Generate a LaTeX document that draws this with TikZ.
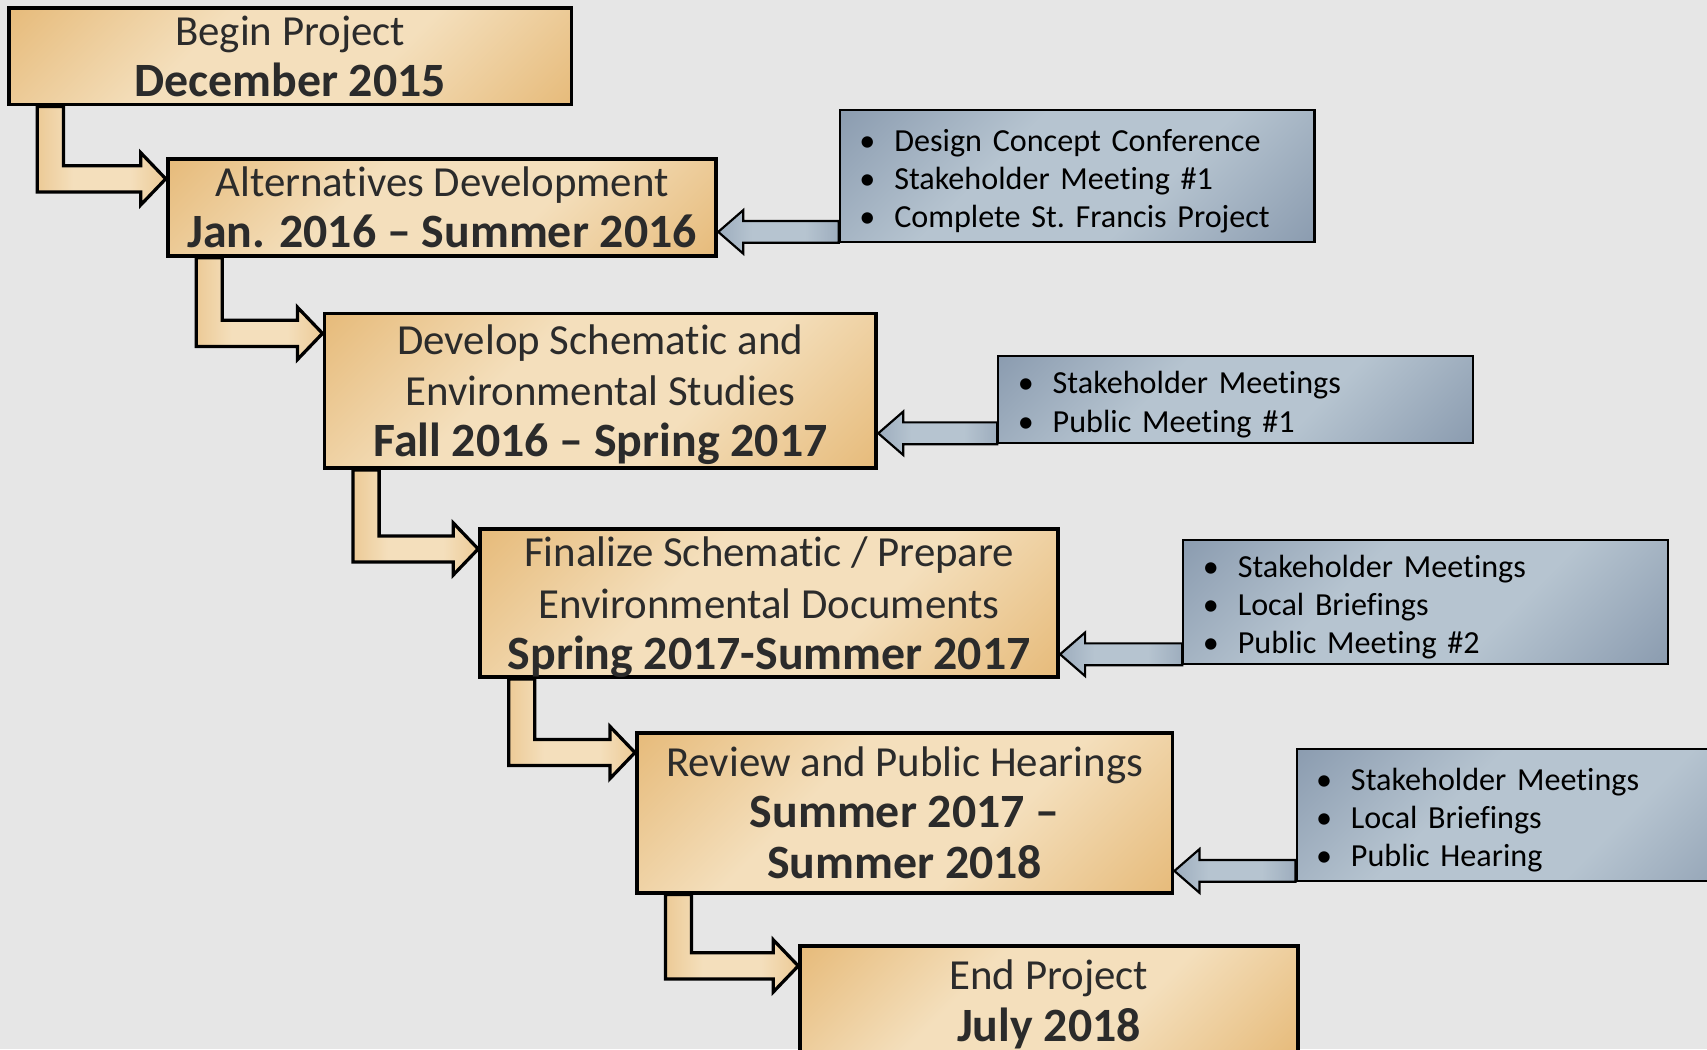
\documentclass[tikz,border=0pt]{standalone}
\usepackage{fontspec}
\setmainfont{Carlito}[Ligatures={TeX,NoCommon}]
\usetikzlibrary{calc}
\definecolor{tlBack}{HTML}{E6E6E6}
\definecolor{tlGoldDark}{HTML}{E6BA79}
\definecolor{tlGoldLight}{HTML}{F4DFBC}
\definecolor{tlBlueDark}{HTML}{8A9BAF}
\definecolor{tlBlueLight}{HTML}{B6C4D0}
\definecolor{tlInk}{HTML}{2B2B2B}
\pgfdeclarehorizontalshading{goldband}{100bp}{color(0bp)=(tlGoldDark); color(14bp)=(tlGoldDark); color(39bp)=(tlGoldLight); color(61bp)=(tlGoldLight); color(86bp)=(tlGoldDark); color(100bp)=(tlGoldDark)}
\pgfdeclarehorizontalshading{blueband}{100bp}{color(0bp)=(tlBlueDark); color(14bp)=(tlBlueDark); color(39bp)=(tlBlueLight); color(61bp)=(tlBlueLight); color(86bp)=(tlBlueDark); color(100bp)=(tlBlueDark)}
\newcommand{\when}[1]{{\fontsize{12.5}{13.4}\selectfont\bfseries #1}}
\newcommand{\bul}{\makebox[3.2mm][l]{\textbullet}}

\begin{document}
\begin{tikzpicture}[x=1mm, y=1mm,
        phase/.style={
            draw=black,
            line width=0.35mm,
            shade, shading=goldband, shading angle=-45,
            align=center,
            text=tlInk,
            inner sep=0pt,
            text depth=0pt,
            font=\fontsize{11.2}{13.4}\selectfont
        },
        note/.style={
            draw=black,
            line width=0.2mm,
            shade, shading=blueband, shading angle=-45,
            align=left,
            text=black,
            inner xsep=1.8mm, inner ysep=0pt,
            text width=40mm,
            text height=8.5pt,
            font=\fontsize{8.4}{10}\selectfont
        },
        stepArrow/.style={
            draw=black,
            line width=0.3mm,
            shade, shading=goldband, shading angle=0
        },
        feedArrow/.style={
            draw=black,
            line width=0.2mm,
            shade, shading=blueband, shading angle=0
        }
    ]

    \useasboundingbox (0,0) rectangle (156.8,-96.4);
    \clip (0,0) rectangle (156.8,-96.4);
    \fill[tlBack] (0,0) rectangle (156.8,-96.4);

    % phases
    \node[phase, minimum width=51.7mm, minimum height=8.9mm] (begin) at (26.65,-5.15) {Begin Project\\\when{December 2015}};
    \node[phase, minimum width=50.4mm, minimum height=8.9mm] (alt) at (40.6,-19.05) {Alternatives Development\\\when{Jan. 2016 – Summer 2016}};
    \node[phase, minimum width=50.7mm, minimum height=14.2mm] (develop) at (55.15,-35.9) {Develop Schematic and\\Environmental Studies\\\when{Fall 2016 – Spring 2017}};
    \node[phase, minimum width=53.1mm, minimum height=13.6mm] (final) at (70.65,-55.4) {Finalize Schematic / Prepare\\Environmental Documents\\\when{Spring 2017-Summer 2017}};
    \node[phase, minimum width=49.2mm, minimum height=14.7mm] (review) at (83.1,-74.65) {Review and Public Hearings\\\when{Summer 2017 –}\\\when{Summer 2018}};
    \node[phase, minimum width=45.7mm, minimum height=10mm] (end) at (96.35,-91.9) {End Project\\\when{July 2018}};

    % outreach
    \node[note, minimum height=12.1mm] (concept) at (98.95,-16.15) {\bul Design Concept Conference\\\bul Stakeholder Meeting \#1\\\bul Complete St.\ Francis Project};
    \node[note, minimum height=8mm] (meet) at (113.5,-36.7) {\bul Stakeholder Meetings\\\bul Public Meeting \#1};
    \node[note, text width=40.9mm, minimum height=11.4mm] (brief) at (130.95,-55.3) {\bul Stakeholder Meetings\\\bul Local Briefings\\\bul Public Meeting \#2};
    \node[note, minimum height=12.1mm] (hearing) at (140.9,-74.85) {\bul Stakeholder Meetings\\\bul Local Briefings\\\bul Public Hearing};

    % elbow arrows between phases
    \foreach \a/\b in {begin/alt, alt/develop, develop/final, final/review, review/end}
        \draw[stepArrow] let \p1=(\a.south west), \p2=(\b.north west) in
            (\x1+2.8mm,\y1) -- (\x1+5.2mm,\y1) -- (\x1+5.2mm,\y2-0.8mm)
            -- (\x2-2.3mm,\y2-0.8mm) -- (\x2-2.3mm,\y2+0.4mm) -- (\x2,\y2-2mm)
            -- (\x2-2.3mm,\y2-4.4mm) -- (\x2-2.3mm,\y2-3.2mm) -- (\x1+2.8mm,\y2-3.2mm) -- cycle;

    % arrows from outreach to phases
    \foreach \a/\b in {concept/alt, meet/develop, brief/final, hearing/review}
        \draw[feedArrow] let \p1=(\a.south west), \p2=(\b.east) in
            (\x1,\y1) -- (\x1,\y1+2mm) -- (\x2+2.3mm,\y1+2mm) -- (\x2+2.3mm,\y1+3mm)
            -- (\x2,\y1+1mm) -- (\x2+2.3mm,\y1-1mm) -- (\x2+2.3mm,\y1) -- cycle;

\end{tikzpicture}
\end{document}
